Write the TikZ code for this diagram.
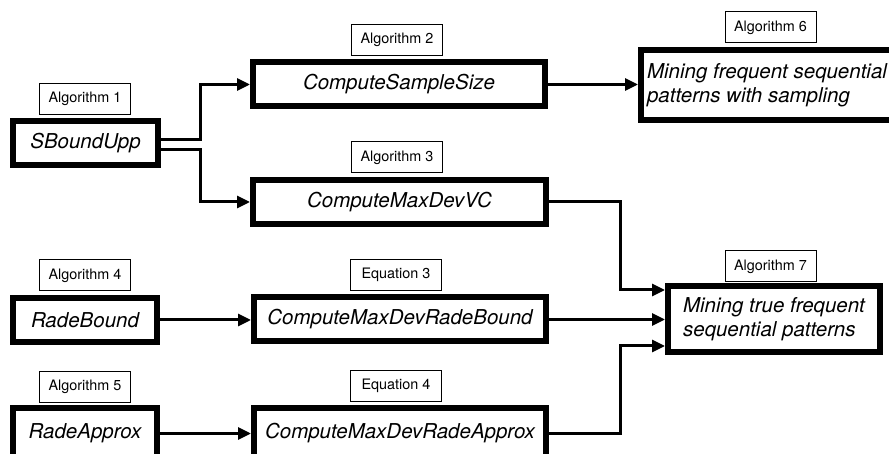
\documentclass[tikz,border=0pt]{standalone}
\usepackage{fontspec}
\setmainfont{TeX Gyre Heros}
\usetikzlibrary{arrows.meta}
\begin{document}
\begin{tikzpicture}[x=1pt,y=-1pt,
  mainbox/.style={draw=black,line width=6pt,fill=white,inner sep=0pt,minimum height=44pt,
    font=\fontsize{20.5}{24}\selectfont\itshape,align=center},
  lab/.style={draw=black,line width=1pt,fill=white,inner sep=0pt,minimum width=91pt,
    minimum height=31pt,font=\fontsize{14.4}{17}\selectfont},
  conn/.style={line width=3pt,-{Triangle[length=13pt,width=12pt]}}]
\useasboundingbox (0,0) rectangle (889,454);
\clip (0,0) rectangle (889,454);
% main boxes
\node[mainbox,minimum width=145pt] (b1) at (85.5,143) {SBoundUpp};
\node[mainbox,minimum width=292pt] (b2) at (399,84.5) {ComputeSampleSize};
\node[mainbox,minimum width=293pt] (b3) at (399.5,202) {ComputeMaxDevVC};
\node[mainbox,minimum width=144pt] (b4) at (85,320) {RadeBound};
\node[mainbox,minimum width=144pt,minimum height=51pt] (b5) at (85,433.5) {RadeApprox};
\node[mainbox,minimum width=292pt] (e3) at (400,319.5) {ComputeMaxDevRadeBound};
\node[mainbox,minimum width=292pt,minimum height=51pt] (e4) at (400,433.5) {ComputeMaxDevRadeApprox};
\node[mainbox,minimum width=252pt,minimum height=70pt,align=left] (a6) at (767,85) {Mining frequent sequential\\patterns with sampling};
\node[mainbox,minimum width=212pt,minimum height=66pt,align=left] (a7) at (774,319) {Mining true frequent\\sequential patterns};
% labels
\node[lab] (l1) at (85,99) {Algorithm 1};
\node[lab] (l2) at (397,40) {Algorithm 2};
\node[lab] (l3) at (397,157.5) {Algorithm 3};
\node[lab] (l4) at (85,275.5) {Algorithm 4};
\node[lab] (l5) at (85,386.5) {Algorithm 5};
\node[lab] (le3) at (396,275) {Equation 3};
\node[lab] (le4) at (396,386) {Equation 4};
\node[lab] (l6) at (770.5,27.5) {Algorithm 6};
\node[lab] (l7) at (770.5,266.5) {Algorithm 7};
% connectors
\draw[conn] ([yshift=3pt]b1.east) -- ++(39,0) |- (b2.west);
\draw[conn] ([yshift=-7pt]b1.east) -- ++(39,0) |- (b3.west);
\draw[conn] (b2.east) -- (b2.east -| a6.west);
\draw[conn] (b3.east) -- ++(71,0) |- ([yshift=29pt]a7.west);
\draw[conn] (e3.east) -- (e3.east -| a7.west);
\draw[conn] (e4.east) -- ++(71,0) |- ([yshift=-27pt]a7.west);
\draw[conn] (b4.east) -- (b4.east -| e3.west);
\draw[conn] (b5.east) -- (b5.east -| e4.west);
\end{tikzpicture}
\end{document}
